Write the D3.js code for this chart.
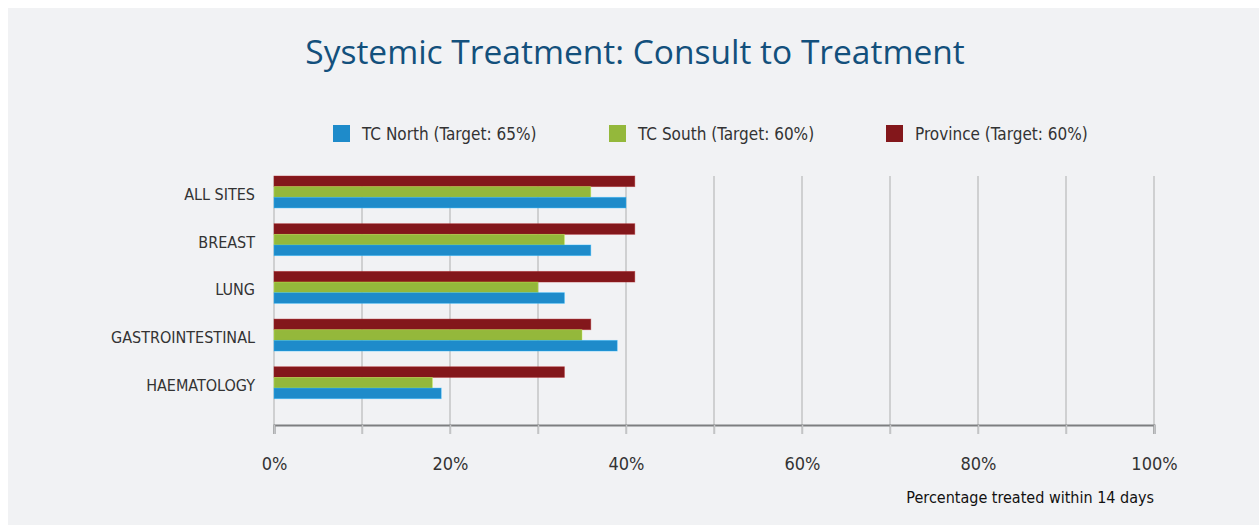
<!DOCTYPE html>
<html>
<head>
<meta charset="utf-8">
<script src="https://cdn.jsdelivr.net/npm/d3@7"></script>
<style>
  html, body { margin: 0; padding: 0; background: #ffffff; }
  svg { display: block; }
  .narrow { font-family: "Liberation Sans Narrow", "DejaVu Sans Condensed", "Arial Narrow", sans-serif; }
</style>
</head>
<body>
<svg id="chart" width="1259" height="525"></svg>
<script>
// ---- data ----
const categories = ["ALL SITES", "BREAST", "LUNG", "GASTROINTESTINAL", "HAEMATOLOGY"];
const seriesNames = ["TC North (Target: 65%)", "TC South (Target: 60%)", "Province (Target: 60%)"];
const tcNorth = [40, 36, 33, 39, 19];
const tcSouth = [36, 33, 30, 35, 18];
const province = [41, 41, 41, 36, 33];
const tickValues = [0, 10, 20, 30, 40, 50, 60, 70, 80, 90, 100];
const tickLabels = ["0%", "", "20%", "", "40%", "", "60%", "", "80%", "", "100%"];
const title = "Systemic Treatment: Consult to Treatment";
const axisTitle = "Percentage treated within 14 days";

const colors = { north: "#1e8bca", south: "#94b83b", province: "#83171b" };
const seriesKeys = ["province", "south", "north"]; // top to bottom in each group
const seriesData = { north: tcNorth, south: tcSouth, province: province };

const svg = d3.select("#chart");
// panel
svg.append("rect").attr("x", 8).attr("y", 8).attr("width", 1251).attr("height", 517).attr("fill", "#f1f2f4");

// title
svg.append("text")
  .attr("x", 635).attr("y", 64)
  .attr("text-anchor", "middle")
  .attr("font-family", "'Open Sans', Lato, sans-serif")
  .attr("font-size", 33.5)
  .attr("fill", "#13507c")
  .text(title);

// scales
const x = d3.scaleLinear().domain([0, 100]).range([274, 1154]);
const y = d3.scaleBand().domain(categories).range([176, 398.7]).paddingInner(0.33).paddingOuter(0);
const ySub = d3.scaleBand().domain(seriesKeys).range([0, y.bandwidth()]);

// gridlines
svg.append("g").selectAll("line").data(tickValues).join("line")
  .attr("x1", d => x(d)).attr("x2", d => x(d))
  .attr("y1", 176).attr("y2", 434)
  .attr("stroke", "#c3c4c6").attr("stroke-width", 1.5);

// axis
const axis = d3.axisBottom(x).tickValues(tickValues).tickSize(9).tickFormat((d, i) => tickLabels[i]);
const gAxis = svg.append("g").attr("transform", "translate(0,425)").call(axis);
gAxis.select(".domain").attr("stroke", "#7d7e80").attr("stroke-width", 2);
gAxis.selectAll(".tick line").attr("stroke", "#c3c4c6").attr("stroke-width", 1.5);
gAxis.selectAll(".tick text")
  .attr("class", "narrow")
  .attr("y", 45).attr("dy", 0)
  .attr("font-size", 18)
  .attr("fill", "#333");

// bars
const groups = svg.append("g").selectAll("g").data(categories).join("g")
  .attr("transform", d => `translate(0,${y(d)})`);
seriesKeys.forEach(k => {
  groups.append("rect")
    .attr("x", x(0))
    .attr("y", ySub(k))
    .attr("width", (d, i) => x(seriesData[k][i]) - x(0))
    .attr("height", ySub.bandwidth())
    .attr("fill", colors[k])
    .attr("stroke", d3.color(colors[k]).brighter(0.8))
    .attr("stroke-opacity", 0.5)
    .attr("stroke-width", 0.8);
});

// category labels
svg.append("g").selectAll("text").data(categories).join("text")
  .attr("class", "narrow")
  .attr("x", 255)
  .attr("y", d => y(d) + y.bandwidth() / 2 + 8)
  .attr("text-anchor", "end")
  .attr("font-size", 16)
  .attr("fill", "#333")
  .text(d => d);

// axis title
svg.append("text")
  .attr("class", "narrow")
  .attr("x", 1154).attr("y", 503)
  .attr("text-anchor", "end")
  .attr("font-size", 16)
  .attr("fill", "#111")
  .text(axisTitle);

// legend
const legendKeys = ["north", "south", "province"];
const legendX = [333, 609, 886];
const lg = svg.append("g").selectAll("g").data(legendKeys).join("g")
  .attr("transform", (d, i) => `translate(${legendX[i]},125)`);
lg.append("rect").attr("width", 17).attr("height", 17).attr("fill", d => colors[d]);
lg.append("text")
  .attr("class", "narrow")
  .attr("x", 29).attr("y", 15)
  .attr("font-size", 17)
  .attr("fill", "#333")
  .text((d, i) => seriesNames[i]);
</script>
</body>
</html>
